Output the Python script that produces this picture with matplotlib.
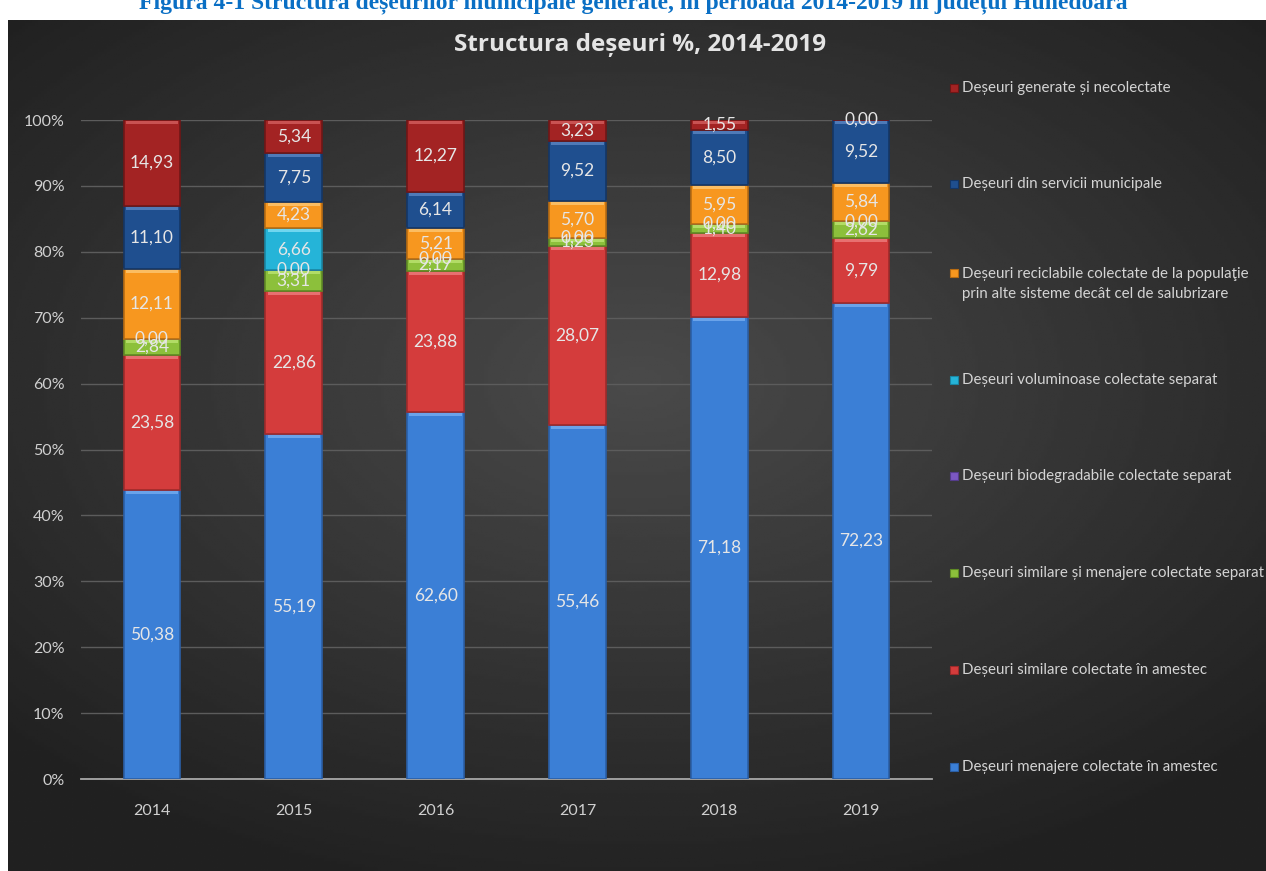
import matplotlib as mpl
mpl.use('Agg')
import matplotlib.pyplot as plt
import numpy as np
from matplotlib.patches import Rectangle

plt.rcParams['font.family'] = ['Lato', 'DejaVu Sans']

ani = ['2014', '2015', '2016', '2017', '2018', '2019']

serii = [
    'Deșeuri menajere colectate în amestec',
    'Deșeuri similare colectate în amestec',
    'Deșeuri similare și menajere colectate separat',
    'Deșeuri biodegradabile colectate separat',
    'Deșeuri voluminoase colectate separat',
    'Deșeuri reciclabile colectate de la populaţie\nprin alte sisteme decât cel de salubrizare',
    'Deșeuri din servicii municipale',
    'Deșeuri generate și necolectate',
]

menajere = [50.38, 55.19, 62.60, 55.46, 71.18, 72.23]
similare = [23.58, 22.86, 23.88, 28.07, 12.98, 9.79]
separat = [2.84, 3.31, 2.17, 1.23, 1.40, 2.62]
biodegradabile = [0.00, 0.00, 0.00, 0.00, 0.00, 0.00]
voluminoase = [np.nan, 6.66, np.nan, np.nan, np.nan, np.nan]
reciclabile = [12.11, 4.23, 5.21, 5.70, 5.95, 5.84]
servicii = [11.10, 7.75, 6.14, 9.52, 8.50, 9.52]
necolectate = [14.93, 5.34, 12.27, 3.23, 1.55, 0.00]

valori = [menajere, similare, separat, biodegradabile, voluminoase,
          reciclabile, servicii, necolectate]

culori = ['#3b7fd6', '#d43c3c', '#8cc03b', '#7b58c2', '#25b4d8',
          '#f7971f', '#1f4f8f', '#a32323']
margini = ['#2b5fa6', '#9e2a2a', '#5f8a25', '#553c8c', '#1a86a3',
           '#b86c12', '#143666', '#701616']
lumini = ['#6aa3ea', '#e87070', '#b2dc66', '#a284dc', '#6fd6ef',
          '#fbbd62', '#4f7ab8', '#c95252']

fig = plt.figure(figsize=(12.66, 8.71), dpi=100)
W, H = 1266, 871

# fundal inchis cu gradient
bg = fig.add_axes([8 / W, 0, 1 - 8 / W, 1 - 20 / H], zorder=-5)
yy, xx = np.mgrid[-1:1:300j, -1:1:400j]
r = np.sqrt((xx * 0.9) ** 2 + ((yy + 0.15) * 1.0) ** 2)
img = np.clip(0.29 - 0.13 * r, 0.13, 0.3)
bg.imshow(img, cmap='gray', vmin=0, vmax=1, aspect='auto', extent=[0, 1, 0, 1])
bg.axis('off')

fig.text(0.5, 1 - 3 / H,
         'Figura 4-1 Structura deșeurilor municipale generate, în perioada 2014-2019 în județul Hunedoara',
         family='Liberation Serif', fontweight='bold', fontsize=17, color='#0a6fc4',
         ha='center', va='center')

ax = fig.add_axes([81 / W, 1 - 779 / H, (932 - 81) / W, (779 - 120) / H])
ax.set_facecolor('none')

date = np.array(valori, dtype=float)
totaluri = np.nansum(date, axis=0)
procente = date / totaluri * 100

x = np.arange(len(ani))
baza = np.zeros(len(ani))
for i in range(len(serii)):
    h = np.nan_to_num(procente[i])
    ax.bar(x, h, 0.4, bottom=baza, color=culori[i], edgecolor=margini[i],
           linewidth=1.2, zorder=3)
    # mic reflex pe marginea de sus a fiecarui segment
    sus = np.where(h > 0.6, 0.45, 0)
    ax.bar(x, sus, 0.37, bottom=baza + h - sus - 0.15, color=lumini[i],
           linewidth=0, zorder=3.5)
    for j in range(len(ani)):
        if np.isnan(date[i][j]):
            continue
        eticheta = f'{date[i][j]:.2f}'.replace('.', ',')
        ax.text(x[j], baza[j] + h[j] / 2, eticheta, ha='center', va='center',
                color='#e6e6e6', fontsize=12.5, zorder=4)
    baza = baza + h

ax.set_xlim(-0.5, 5.5)
ax.set_ylim(0, 100)
ax.set_xticks(x)
ax.set_xticklabels(ani)
ax.set_yticks(range(0, 101, 10))
ax.set_yticklabels([f'{v}%' for v in range(0, 101, 10)])
ax.tick_params(colors='#d0d0d0', labelsize=11.5, length=0)
ax.tick_params(axis='x', pad=18)
ax.tick_params(axis='y', pad=12)
ax.grid(axis='y', color='#5c5c5c', linewidth=1, zorder=0)
for s in ['top', 'right', 'left']:
    ax.spines[s].set_visible(False)
ax.spines['bottom'].set_color('#a8a8a8')
ax.spines['bottom'].set_linewidth(1.3)

fig.text(640 / W, 1 - 45 / H, 'Structura deșeuri %, 2014-2019', ha='center', va='center',
         family=['Open Sans', 'DejaVu Sans'], fontsize=17.5, fontweight='bold',
         color='#e4e4e4')

# legenda
pozitii = [767, 670, 573, 476, 380, 284, 184, 88]
for i in range(len(serii)):
    yp = pozitii[i]
    ym = yp - 11 if '\n' in serii[i] else yp
    fig.patches.append(Rectangle((950 / W, 1 - (ym + 4) / H), 8 / W, 8 / H,
                                 transform=fig.transFigure, facecolor=culori[i],
                                 edgecolor=margini[i], linewidth=0.8))
    fig.text(962 / W, 1 - yp / H, serii[i], ha='left', va='center', fontsize=10.8,
             color='#d4d4d4', linespacing=1.5)

fig.savefig('out.png', dpi=100, facecolor='white')
